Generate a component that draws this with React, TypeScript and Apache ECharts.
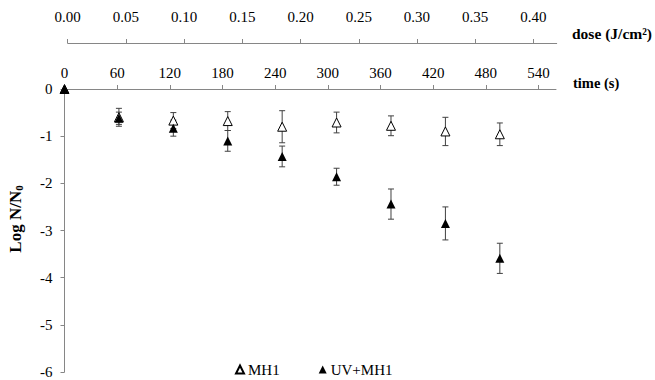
import React, { useEffect, useRef } from "react";
import * as echarts from "echarts";

const times = [0, 62, 124, 186, 248, 310, 372, 434, 496];
const mh1 = [0, -0.6, -0.67, -0.68, -0.8, -0.71, -0.78, -0.9, -0.96];
const mh1Err = [0, 0.19, 0.17, 0.2, 0.34, 0.22, 0.21, 0.3, 0.24];
const uvMh1 = [0, -0.62, -0.83, -1.1, -1.43, -1.86, -2.44, -2.85, -3.59];
const uvMh1Err = [0, 0.13, 0.17, 0.22, 0.22, 0.18, 0.32, 0.35, 0.32];
const timeTicks = [0, 60, 120, 180, 240, 300, 360, 420, 480, 540];
const doseTicks = [0, 0.05, 0.1, 0.15, 0.2, 0.25, 0.3, 0.35, 0.4];
const seriesNames = ["MH1", "UV+MH1"];

const FONT = "'Liberation Serif', 'Times New Roman', serif";
const AXIS_COLOR = "#868686";

export default function App() {
  const ref = useRef<HTMLDivElement>(null);
  useEffect(() => {
    if (!ref.current) return;
    const chart = echarts.init(ref.current, undefined, { renderer: "svg" });
    const errData = (vals: number[], errs: number[]) =>
      times.map((t, i) => [t, vals[i] - errs[i], vals[i] + errs[i]]);
    const renderErr = (params: any, api: any) => {
      const x = api.value(0);
      const lo = api.value(1);
      const hi = api.value(2);
      if (lo === hi) return null;
      const p1 = api.coord([x, hi]);
      const p2 = api.coord([x, lo]);
      const w = 3;
      const st = { stroke: "#404040", lineWidth: 1 };
      return {
        type: "group",
        children: [
          { type: "line", shape: { x1: p1[0], y1: p1[1], x2: p2[0], y2: p2[1] }, style: st },
          { type: "line", shape: { x1: p1[0] - w, y1: p1[1], x2: p1[0] + w, y2: p1[1] }, style: st },
          { type: "line", shape: { x1: p2[0] - w, y1: p2[1], x2: p2[0] + w, y2: p2[1] }, style: st },
        ],
      };
    };
    const axisCommon = {
      axisLine: { show: true, lineStyle: { color: AXIS_COLOR, width: 1 } },
      axisTick: { show: true, length: 4, lineStyle: { color: AXIS_COLOR } },
      splitLine: { show: false },
    };
    chart.setOption({
      animation: false,
      backgroundColor: "#fff",
      grid: [
        { left: 64.5, right: 99, top: 89, bottom: 8 },
        { left: 67.7, right: 98.3, top: 33, height: 10 },
      ],
      xAxis: [
        {
          type: "value",
          gridIndex: 0,
          position: "top",
          min: 0,
          max: 560,
          ...axisCommon,
          axisTick: { ...axisCommon.axisTick, customValues: timeTicks },
          axisLabel: {
            customValues: timeTicks,
            color: "#000",
            fontFamily: FONT,
            fontSize: 15,
            margin: 9,
          },
        },
        {
          type: "value",
          gridIndex: 1,
          position: "top",
          min: 0,
          max: 0.42,
          ...axisCommon,
          axisTick: { ...axisCommon.axisTick, customValues: doseTicks },
          axisLabel: {
            customValues: doseTicks,
            color: "#000",
            fontFamily: FONT,
            fontSize: 15,
            margin: 9,
            formatter: (v: number) => v.toFixed(2),
          },
        },
      ],
      yAxis: [
        {
          type: "value",
          gridIndex: 0,
          min: -6,
          max: 0,
          interval: 1,
          ...axisCommon,
          axisLabel: { color: "#000", fontFamily: FONT, fontSize: 15, margin: 12 },
        },
        { type: "value", gridIndex: 1, min: 0, max: 1, show: false },
      ],
      legend: {
        data: seriesNames,
        left: 230,
        top: 357,
        itemWidth: 8,
        itemHeight: 8,
        itemGap: 39,
        icon: "triangle",
        textStyle: { color: "#000", fontFamily: FONT, fontSize: 15, padding: [0, 0, 0, -1] },
      },
      graphic: [
        {
          type: "text",
          x: 15,
          y: 219,
          rotation: Math.PI / 2,
          style: {
            text: "Log N/N{s|0}",
            fontFamily: FONT,
            fontSize: 17,
            fontWeight: "bold",
            fill: "#000",
            textAlign: "center",
            textVerticalAlign: "middle",
            rich: {
              s: { fontFamily: FONT, fontSize: 11, fontWeight: "bold", padding: [7, 0, 0, 0] },
            },
          },
        },
        {
          type: "text",
          x: 572,
          y: 33,
          style: {
            text: "dose (J/cm²)",
            fontFamily: FONT,
            fontSize: 15.5,
            fontWeight: "bold",
            fill: "#000",
            textAlign: "left",
            textVerticalAlign: "middle",
          },
        },
        {
          type: "text",
          x: 573,
          y: 83,
          style: {
            text: "time (s)",
            fontFamily: FONT,
            fontSize: 14.5,
            fontWeight: "bold",
            fill: "#000",
            textAlign: "left",
            textVerticalAlign: "middle",
          },
        },
      ],
      series: [
        {
          name: "dose-axis",
          type: "scatter",
          xAxisIndex: 1,
          yAxisIndex: 1,
          data: [],
          silent: true,
        },
        {
          name: "MH1 err",
          type: "custom",
          xAxisIndex: 0,
          yAxisIndex: 0,
          renderItem: renderErr,
          data: errData(mh1, mh1Err),
          z: 1,
        },
        {
          name: "UV+MH1 err",
          type: "custom",
          xAxisIndex: 0,
          yAxisIndex: 0,
          renderItem: renderErr,
          data: errData(uvMh1, uvMh1Err),
          z: 1,
        },
        {
          name: seriesNames[0],
          type: "scatter",
          symbol: "triangle",
          symbolSize: [9, 9],
          data: times.map((t, i) => [t, mh1[i]]),
          itemStyle: { color: "#fff", borderColor: "#000", borderWidth: 1, opacity: 1 },
          z: 3,
        },
        {
          name: seriesNames[1],
          type: "scatter",
          symbol: "triangle",
          symbolSize: [9, 9],
          data: times.map((t, i) => [t, uvMh1[i]]),
          itemStyle: { color: "#000", opacity: 1 },
          z: 4,
        },
      ],
    });
    return () => chart.dispose();
  }, []);
  return (
    <div
      ref={ref}
      style={{ position: "fixed", left: 0, top: 0, width: 655, height: 380, background: "#fff" }}
    />
  );
}
